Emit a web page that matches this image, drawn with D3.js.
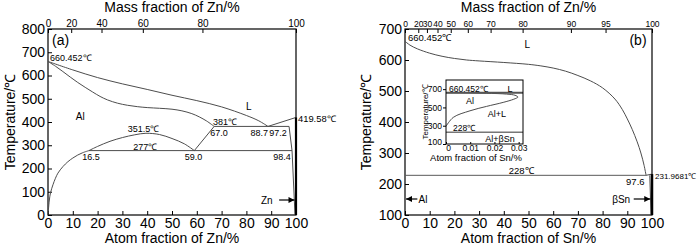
<!DOCTYPE html>
<html><head><meta charset="utf-8">
<script src="https://cdn.jsdelivr.net/npm/d3@7"></script>
<style>
html,body{margin:0;padding:0;background:#fff;}
svg{display:block;font-family:"Liberation Sans",Arial,sans-serif;}
</style></head>
<body>
<svg id="c" width="700" height="247"></svg>
<script>
// ---------- data ----------
const A_AL = 26.98, A_ZN = 65.38, A_SN = 118.71;
const atomTicks = [0,10,20,30,40,50,60,70,80,90,100];
const massTicksA = [0,20,40,60,80,100];
const massTicksB = [0,20,30,40,50,60,70,80,90,95,100];
const tempTicksA = [0,100,200,300,400,500,600,700,800];
const tempTicksB = [100,200,300,400,500,600,700];
const insetXTicks = [0,0.01,0.02,0.03];
const insetYTicks = [100,300,500,700];

// Panel (a) Al-Zn  [atom % Zn, T °C]
const aLiquidus = [[0,660.452],[10,624],[20,591],[30,564],[40,540],[50,515],[60,492],[70,465],[80,428],[85,405],[88.7,381]];
const aLiquidusZn = [[88.7,381],[100,419.58]];
const aSolidus = [[0,660.452],[3,640],[6,617],[9,593],[12,570],[15,549],[18,529],[21,510],[24,495],[28,481],[32,472],[36,466],[40,462],[45,459],[50,455],[54,448],[58,436],[61,422],[64,404],[67,381]];
const aSolvusAl = [[0,0],[0.5,60],[1,95],[2,130],[3,158],[4,180],[6,208],[8,229],[10,245],[12,258],[14,268],[16.5,277]];
const aGap = [[16.5,277],[20,295],[25,317],[30,333],[35,345],[39.5,351.5],[45,346],[50,329],[55,306],[59,277]];
const aMonotectoid = [[59,277],[67,381]];
const aZnSide = [[97.2,381],[98.4,277],[99.6,0]];
const aIso277 = [[16.5,277],[98.4,277]];
const aIso381 = [[67,381],[97.2,381]];

// Panel (b) Al-Sn  [atom % Sn, T °C]
const bLiquidus = [[0,660.452],[2,648],[5,636],[10,622],[15,612],[20,605],[25,600],[30,597],[40,592],[50,586],[55,581],[60,574],[65,564],[70,550],[75,533],[80,510],[85,474],[88,440],[90,410],[92,376],[94,336],[95.5,300],[96.8,260],[97.6,228]];
const bEutectic = [[0,228],[97.6,228]];
const bSnLiq = [[97.6,228],[100,231.9681]];
const bSnSolvus = [[99.1,228],[99.6,100]];

// Inset  [atom fraction Sn, T °C]
const insetCurve = [[0,293],[0.003,391],[0.0099,463],[0.0167,511],[0.0236,555],[0.028,590],[0.0297,613],[0.0285,633],[0.025,646],[0.0167,655],[0.008,659],[0,660.452]];
const insetTop = [[0,660.452],[0.0318,660.452]];
const insetEut = [[0,228],[0.0318,228]];

// ---------- drawing ----------
const svg = d3.select("#c");
const FONT = '"Liberation Sans",Arial,sans-serif';
const curveCol = "#4d4d4d";
function massToAtom(w, A){ if (w>=100) return 100; const f=w/100; const n1=f/A, n2=(1-f)/A_AL; return 100*n1/(n1+n2); }

function panel(x, y, tempTicks, massTicks, Asolute, xTitle, topTitle, ylabX, topFont){
  const g = svg.append("g");
  const [x0,x1] = x.range(), [y0,y1] = y.range();
  const bot = g.append("g").attr("transform",`translate(0,${y0})`)
    .call(d3.axisBottom(x).tickValues(atomTicks).tickSizeInner(-4).tickSizeOuter(0).tickPadding(3));
  bot.selectAll("text").attr("font-size",14).attr("font-family",FONT).attr("fill","#000");
  const left = g.append("g").attr("transform",`translate(${x0},0)`)
    .call(d3.axisLeft(y).tickValues(tempTicks).tickSizeInner(-4).tickSizeOuter(0).tickPadding(3));
  left.selectAll("text").attr("font-size",14).attr("font-family",FONT).attr("fill","#000");
  const topPos = massTicks.map(w=>massToAtom(w,Asolute));
  const top = g.append("g").attr("transform",`translate(0,${y1})`)
    .call(d3.axisTop(x).tickValues(topPos).tickFormat((d,i)=>massTicks[i]).tickSizeInner(-4).tickSizeOuter(0).tickPadding(2));
  top.selectAll("text").attr("font-size",topFont).attr("font-family",FONT).attr("fill","#000");
  g.selectAll(".domain").remove();
  g.selectAll(".tick line").attr("stroke","#000");
  g.append("rect").attr("x",x0).attr("y",y1).attr("width",x1-x0).attr("height",y0-y1)
    .attr("fill","none").attr("stroke","#000").attr("stroke-width",1.2);
  g.append("text").attr("x",(x0+x1)/2).attr("y",12).attr("text-anchor","middle")
    .attr("font-size",14).attr("font-family",FONT).text(topTitle);
  g.append("text").attr("x",(x0+x1)/2).attr("y",243).attr("text-anchor","middle")
    .attr("font-size",14).attr("font-family",FONT).text(xTitle);
  g.append("text").attr("transform",`translate(${ylabX},${(y0+y1)/2}) rotate(-90)`)
    .attr("text-anchor","middle").attr("dominant-baseline","central")
    .attr("font-size",14).attr("font-family",FONT).text("Temperature/℃");
  return g;
}
function path(g, x, y, data, opts={}){
  const line = d3.line().x(d=>x(d[0])).y(d=>y(d[1])).curve(opts.curve || d3.curveLinear);
  g.append("path").attr("d",line(data)).attr("fill","none")
    .attr("stroke",opts.color||curveCol).attr("stroke-width",opts.w||1);
}
function label(g, px, py, t, size=9, anchor="start"){
  return g.append("text").attr("x",px).attr("y",py).attr("text-anchor",anchor)
    .attr("font-size",size).attr("font-family",FONT).attr("fill","#000").text(t);
}
function arrow(g, xFrom, xTo, py){
  g.append("line").attr("x1",xFrom).attr("x2",xTo).attr("y1",py).attr("y2",py).attr("stroke","#000").attr("stroke-width",1.2);
  const dir = Math.sign(xTo-xFrom);
  g.append("path").attr("d",`M${xTo},${py} L${xTo-dir*6},${py-3} L${xTo-dir*6},${py+3} Z`).attr("fill","#000");
}

// ----- panel (a) -----
const xa = d3.scaleLinear([0,100],[48,296]);
const ya = d3.scaleLinear([0,800],[215,29]);
const ga = panel(xa, ya, tempTicksA, massTicksA, A_ZN, "Atom fraction of Zn/%", "Mass fraction of Zn/%", 10, 10);
path(ga, xa, ya, aLiquidus, {curve:d3.curveCatmullRom});
path(ga, xa, ya, aLiquidusZn);
path(ga, xa, ya, aSolidus, {curve:d3.curveCatmullRom});
path(ga, xa, ya, aSolvusAl, {curve:d3.curveCatmullRom});
path(ga, xa, ya, aGap, {curve:d3.curveCatmullRom});
path(ga, xa, ya, aMonotectoid);
path(ga, xa, ya, aZnSide);
path(ga, xa, ya, aIso277);
path(ga, xa, ya, aIso381);
ga.append("line").attr("x1",xa(100)).attr("x2",xa(100)).attr("y1",ya(419.58)).attr("y2",ya(0)).attr("stroke","#000").attr("stroke-width",2.2);
label(ga, 52, 45, "(a)", 14);
label(ga, xa(0)+2, 61, "660.452℃", 9);
label(ga, xa(13), 120, "Al", 10, "middle");
label(ga, xa(81), 110, "L", 10, "middle");
label(ga, xa(71.4), 125, "381℃", 9, "middle");
label(ga, xa(100)+2, 122, "419.58℃", 9).attr("textLength",38).attr("lengthAdjust","spacingAndGlyphs");
label(ga, xa(38.5), 131.5, "351.5℃", 9, "middle");
label(ga, xa(39.2), 149.5, "277℃", 9, "middle");
label(ga, xa(17.3), 159.5, "16.5", 9, "middle");
label(ga, xa(58.7), 159.5, "59.0", 9, "middle");
label(ga, xa(94.4), 159.5, "98.4", 9, "middle");
label(ga, xa(69), 135.5, "67.0", 9, "middle");
label(ga, xa(85.2), 135.5, "88.7", 9, "middle");
label(ga, xa(92.7), 135.5, "97.2", 9, "middle");
label(ga, xa(88.2), 203.5, "Zn", 10, "middle");
arrow(ga, xa(93.2), xa(99.4), 200);

// ----- panel (b) -----
const xb = d3.scaleLinear([0,100],[405,652]);
const yb = d3.scaleLinear([100,700],[215,29]);
const gb = panel(xb, yb, tempTicksB, massTicksB, A_SN, "Atom fraction of Sn/%", "Mass fraction of Zn/%", 366, 8.5);
path(gb, xb, yb, bLiquidus, {curve:d3.curveCatmullRom});
path(gb, xb, yb, bEutectic, {color:"#5a5a5a"});
path(gb, xb, yb, bSnLiq);
path(gb, xb, yb, bSnSolvus);
gb.append("line").attr("x1",xb(100)).attr("x2",xb(100)).attr("y1",yb(231.9681)).attr("y2",yb(100)).attr("stroke","#000").attr("stroke-width",2.5);
label(gb, xb(0)+3, 41, "660.452℃", 9.5);
label(gb, xb(49.5), 47.5, "L", 10, "middle");
label(gb, xb(97.8), 45, "(b)", 14, "end");
label(gb, xb(47), 173.5, "228℃", 9.5, "middle");
label(gb, xb(97), 185, "97.6", 9.5, "end");
label(gb, xb(100)+3, 179, "231.9681℃", 8);
arrow(gb, xb(5), xb(0.4), 199);
label(gb, xb(5.5), 202.5, "Al", 10);
label(gb, xb(87.5), 202.5, "βSn", 10, "middle");
arrow(gb, xb(92.6), xb(99.3), 199);

// ----- inset -----
const xi = d3.scaleLinear([0,0.0318],[446,523]);
const yi = d3.scaleLinear([100,800],[144,80]);
const gi = svg.append("g");
gi.append("rect").attr("x",446).attr("y",80).attr("width",77).attr("height",64).attr("fill","#fff");
const iy = gi.append("g").attr("transform",`translate(${xi.range()[0]},0)`)
  .call(d3.axisLeft(yi).tickValues(insetYTicks).tickSizeInner(3).tickSizeOuter(0).tickPadding(1));
iy.selectAll("text").attr("font-size",8.5).attr("font-family",FONT).attr("fill","#000");
iy.selectAll(".tick").filter(d=>d===100).select("text").attr("dy","0.1em");
const ix = gi.append("g").attr("transform",`translate(0,${yi.range()[0]})`)
  .call(d3.axisBottom(xi).tickValues(insetXTicks).tickFormat(d=>d===0?"0":d3.format(".2f")(d)).tickSizeInner(-2).tickSizeOuter(0).tickPadding(1));
ix.selectAll("text").attr("font-size",8.5).attr("font-family",FONT).attr("fill","#000");
ix.selectAll(".tick").filter(d=>d===0).select("text").attr("dx","0.25em");
gi.selectAll(".domain").remove();
gi.selectAll(".tick line").attr("stroke","#000");
path(gi, xi, yi, insetCurve, {curve:d3.curveCatmullRom});
path(gi, xi, yi, insetTop, {w:2, color:"#555"});
path(gi, xi, yi, insetEut, {w:1.5, color:"#777"});
gi.append("rect").attr("x",446).attr("y",80).attr("width",77).attr("height",64)
  .attr("fill","none").attr("stroke","#000").attr("stroke-width",1);
label(gi, 449, 91.5, "660.452℃", 8.5);
label(gi, 510, 91.5, "L", 9, "middle");
label(gi, 470, 104, "Al", 9, "middle");
label(gi, 497, 117, "Al+L", 9, "middle");
label(gi, 453, 131, "228℃", 8.5);
label(gi, 500, 141.5, "Al+βSn", 9, "middle");
label(gi, 476, 161, "Atom fraction of Sn/%", 9.5, "middle");
gi.append("text").attr("transform",`translate(425,112) rotate(-90)`).attr("text-anchor","middle")
  .attr("dominant-baseline","central").attr("font-size",8).attr("font-family",FONT).text("Temperature/℃");
</script>
</body></html>
